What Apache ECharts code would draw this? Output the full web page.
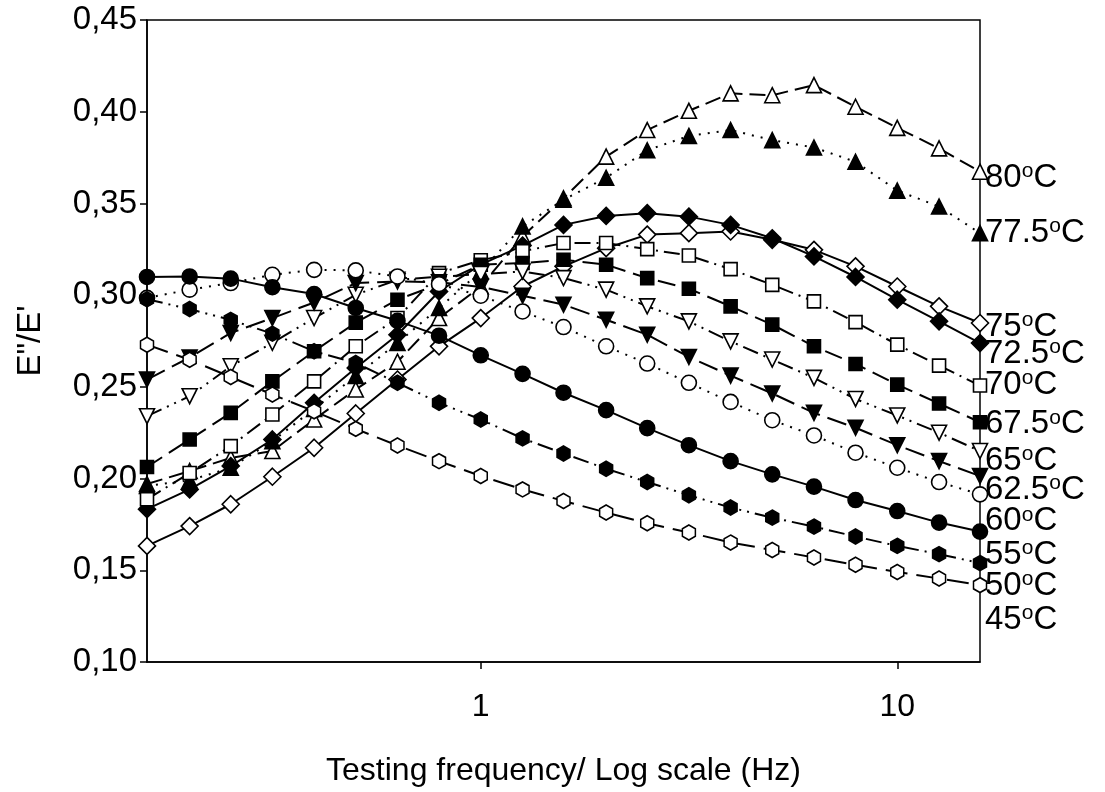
<!DOCTYPE html>
<html>
<head>
<meta charset="utf-8">
<script src="https://cdn.jsdelivr.net/npm/echarts@6/dist/echarts.min.js"></script>
<style>
  html, body { margin: 0; padding: 0; background: #ffffff; }
  #chart { width: 1105px; height: 792px; }
</style>
</head>
<body>
<div id="chart"></div>
<script>
// Test frequencies (Hz), ten points per decade
const frequencies = [0.158, 0.2, 0.251, 0.316, 0.398, 0.501, 0.631, 0.794, 1, 1.26, 1.58,
                     2, 2.51, 3.16, 3.98, 5.01, 6.31, 7.94, 10, 12.6, 15.8];

// Loss ratio E''/E' at each test temperature
const t80  = [0.197, 0.2041, 0.2113, 0.215, 0.2322, 0.2486, 0.2637, 0.2875, 0.3047, 0.332, 0.3528,
              0.3755, 0.39, 0.4005, 0.41, 0.409, 0.4145, 0.4027, 0.3912, 0.38, 0.3673];
const t775 = [0.196, 0.199, 0.2059, 0.2204, 0.238, 0.2559, 0.274, 0.293, 0.313, 0.3375, 0.352,
              0.364, 0.379, 0.3868, 0.39, 0.3845, 0.3805, 0.3727, 0.357, 0.3483, 0.3338];
const t75  = [0.1633, 0.1741, 0.186, 0.201, 0.2168, 0.2355, 0.254, 0.2721, 0.2875, 0.3047, 0.3157,
              0.3256, 0.333, 0.3338, 0.3347, 0.3302, 0.3247, 0.3157, 0.3047, 0.2939, 0.2848];
const t725 = [0.1833, 0.1941, 0.2068, 0.2213, 0.2413, 0.2603, 0.2784, 0.302, 0.3166, 0.327, 0.3383,
              0.3432, 0.3447, 0.3428, 0.3383, 0.331, 0.3211, 0.3099, 0.2975, 0.2857, 0.2739];
const t70  = [0.1887, 0.203, 0.2177, 0.2349, 0.253, 0.2721, 0.2875, 0.312, 0.319, 0.3239, 0.3284,
              0.3284, 0.3251, 0.3216, 0.3142, 0.3056, 0.2966, 0.2853, 0.273, 0.2616, 0.2507];
const t675 = [0.2063, 0.2213, 0.2358, 0.253, 0.2694, 0.285, 0.2975, 0.306, 0.3166, 0.3175, 0.3193,
              0.3166, 0.3093, 0.3035, 0.2939, 0.2839, 0.2721, 0.2625, 0.2512, 0.2409, 0.2307];
const t65  = [0.234, 0.2449, 0.2612, 0.274, 0.2875, 0.3002, 0.3084, 0.31, 0.3115, 0.3129, 0.3093,
              0.303, 0.2939, 0.2857, 0.2748, 0.2649, 0.2549, 0.2434, 0.2344, 0.225, 0.215];
const t625 = [0.254, 0.266, 0.2794, 0.2875, 0.296, 0.3066, 0.3075, 0.307, 0.3045, 0.2997, 0.2948,
              0.2866, 0.2784, 0.2663, 0.2561, 0.2464, 0.2358, 0.2277, 0.2182, 0.2095, 0.2014];
const t60  = [0.2985, 0.303, 0.3066, 0.3111, 0.3138, 0.3135, 0.3102, 0.306, 0.2997, 0.2911, 0.2826,
              0.2721, 0.2627, 0.2522, 0.2418, 0.2318, 0.2235, 0.2141, 0.2059, 0.1981, 0.1914];
const t55  = [0.3099, 0.3102, 0.309, 0.3043, 0.3006, 0.293, 0.286, 0.2779, 0.2672, 0.2571, 0.2468,
              0.2373, 0.2275, 0.2182, 0.2095, 0.2023, 0.1956, 0.1883, 0.1823, 0.176, 0.1711];
const t50  = [0.2978, 0.2924, 0.2865, 0.279, 0.2694, 0.263, 0.2522, 0.2413, 0.2322, 0.2219, 0.2137,
              0.2054, 0.1981, 0.1909, 0.1842, 0.1787, 0.1738, 0.1684, 0.1633, 0.1588, 0.1539];
const t45  = [0.273, 0.2648, 0.2554, 0.2458, 0.2367, 0.2271, 0.218, 0.2095, 0.2014, 0.1941, 0.1878,
              0.1815, 0.1756, 0.1706, 0.1651, 0.1611, 0.157, 0.153, 0.1491, 0.1455, 0.1419];

const temperatureLabels = ['80', '77.5', '75', '72.5', '70', '67.5', '65', '62.5', '60', '55', '50', '45'];
const seriesValues = [t80, t775, t75, t725, t70, t675, t65, t625, t60, t55, t50, t45];
const xTickValues = [1, 10];

// Marker and line look of each curve, in the same order as the temperatures
const HEX = 'path://M0,-10L8.66,-5L8.66,5L0,10L-8.66,5L-8.66,-5Z';
const looks = [
  { symbol: 'triangle', size: 15, filled: false, dash: [16, 7] },
  { symbol: 'triangle', size: 15, filled: true,  dash: [2, 7] },
  { symbol: 'diamond',  size: 17, filled: false, dash: 'solid' },
  { symbol: 'diamond',  size: 17, filled: true,  dash: 'solid' },
  { symbol: 'rect',     size: 13, filled: false, dash: [16, 6, 2, 6] },
  { symbol: 'rect',     size: 13, filled: true,  dash: [18, 8] },
  { symbol: 'triangle', size: 15, filled: false, dash: [16, 6, 2, 6, 2, 6], rotate: 180 },
  { symbol: 'triangle', size: 15, filled: true,  dash: [20, 8], rotate: 180 },
  { symbol: 'circle',   size: 15, filled: false, dash: [2, 7] },
  { symbol: 'circle',   size: 15, filled: true,  dash: 'solid' },
  { symbol: HEX,        size: [13, 15], filled: true,  dash: [16, 6, 2, 6, 2, 6] },
  { symbol: HEX,        size: [13, 15], filled: false, dash: [22, 9] }
];
// Vertical nudge of each end label, in pixels
const labelNudge = [6, 0, 4, 11, -1, 2, 10, 14, 27, 23, 23, 35];

const FONT = '"Liberation Sans", Arial, sans-serif';

const series = seriesValues.map(function (vals, i) {
  const lk = looks[i];
  return {
    type: 'line',
    name: temperatureLabels[i] + '°C',
    data: frequencies.map(function (f, j) { return [f, vals[j]]; }),
    symbol: lk.symbol,
    symbolSize: lk.size,
    symbolRotate: lk.rotate || 0,
    showAllSymbol: true,
    clip: false,
    lineStyle: { color: '#000', width: 2, type: lk.dash },
    itemStyle: { color: lk.filled ? '#000' : '#fff', borderColor: '#000', borderWidth: 1.6 },
    emphasis: { disabled: true },
    endLabel: {
      show: true,
      distance: 5,
      offset: [0, labelNudge[i]],
      color: '#000',
      fontFamily: FONT,
      formatter: '{n|' + temperatureLabels[i] + '}{s|o}{n|C}',
      rich: {
        n: { fontSize: 33, fontFamily: FONT, color: '#000', lineHeight: 34 },
        s: { fontSize: 21, fontFamily: FONT, color: '#000', verticalAlign: 'top', lineHeight: 20 }
      }
    }
  };
});

const chart = echarts.init(document.getElementById('chart'), null, { renderer: 'canvas' });
chart.setOption({
  animation: false,
  backgroundColor: '#ffffff',
  grid: {
    left: 147, right: 125, top: 20, bottom: 129,
    show: true, borderColor: '#000', borderWidth: 1.5, backgroundColor: 'transparent'
  },
  xAxis: {
    type: 'log',
    logBase: 10,
    min: 0.158,
    max: 15.8,
    name: 'Testing frequency/ Log scale (Hz)',
    nameLocation: 'middle',
    nameGap: 93,
    nameTextStyle: { fontFamily: FONT, fontSize: 32, color: '#000' },
    axisLine: { show: true, onZero: false, lineStyle: { color: '#000', width: 1.5 } },
    axisTick: { show: true, inside: false, length: 7, customValues: xTickValues,
                lineStyle: { color: '#000', width: 1.5 } },
    axisLabel: { show: true, customValues: xTickValues, margin: 29,
                 fontFamily: FONT, fontSize: 32, color: '#000' },
    splitLine: { show: false },
    minorTick: { show: false }
  },
  yAxis: {
    type: 'value',
    min: 0.10,
    max: 0.45,
    interval: 0.05,
    name: 'E"/E\'',
    nameLocation: 'middle',
    nameGap: 100,
    nameRotate: 90,
    nameTextStyle: { fontFamily: FONT, fontSize: 33, color: '#000' },
    axisLine: { show: true, lineStyle: { color: '#000', width: 1.5 } },
    axisTick: { show: true, inside: false, length: 7, lineStyle: { color: '#000', width: 1.5 } },
    axisLabel: {
      margin: 10, fontFamily: FONT, fontSize: 33, color: '#000',
      formatter: function (v) { return v.toFixed(2).replace('.', ','); }
    },
    splitLine: { show: false }
  },
  series: series
});
</script>
</body>
</html>
